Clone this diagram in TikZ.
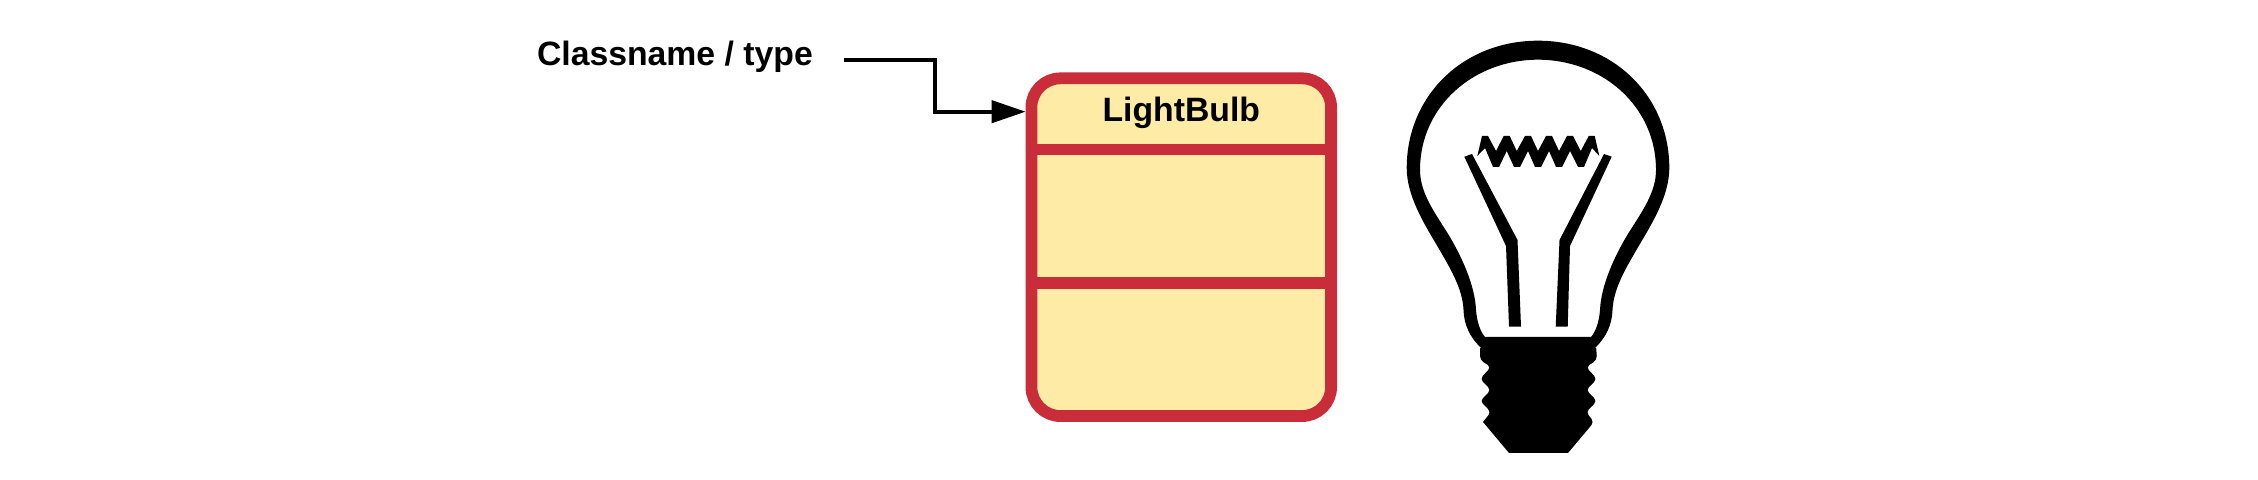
\documentclass[tikz,border=0pt]{standalone}
\usepackage{xcolor}
\usepackage{fontspec}
\setmainfont{Liberation Sans}
\definecolor{boxred}{RGB}{201, 45, 57}
\definecolor{boxyellow}{RGB}{254, 235, 165}
\usetikzlibrary{arrows.meta,positioning}

\begin{document}
\begin{tikzpicture}[
    x=0.01cm,
    y=-0.01cm,
    classtext/.style={
        font=\fontsize{9.6}{11.4}\selectfont\bfseries,
        inner sep=0pt,
        outer sep=0pt
    },
    classbox/.style={
        rectangle,
        rounded corners=0.29cm,
        minimum width=2.995cm,
        minimum height=3.375cm,
        draw=boxred,
        fill=boxyellow,
        line width=0.118cm
    },
    divider/.style={draw=boxred,line width=0.118cm},
    arrow/.style={->,>={Triangle[length=0.34cm,width=0.22cm]},line width=0.042cm,black}
]
    \useasboundingbox (0,0) rectangle (2258,480);

    % Class box
    \node[classbox] (lightbulb) at (1181.25,247.2) {};
    \draw[divider] (1031.5,149.5) -- (1331,149.5);
    \draw[divider] (1031.5,282.7) -- (1331,282.7);
    \node[classtext, minimum width=3.11cm, text height=0.27cm, text depth=0.064cm, align=center] (classname) at (1181.25,111.7) {LightBulb};

    % Label
    \node[classtext, anchor=base west] (typelabel) at (537,66) {Classname / type};
    \coordinate (typeend) at (844,60);

    % Arrows
    \draw[arrow] (typeend) -- (935,60) |- (classname.west);

    % Bulb glass
    \fill[black, even odd rule]
        (1480,347) .. controls (1470,337) and (1464,325) .. (1463.5,310)
        .. controls (1462.5,288) and (1450,268) .. (1436.7,245)
        .. controls (1423,222) and (1406.7,195) .. (1406.7,168)
        .. controls (1406.7,96) and (1463,40.7) .. (1538,40.7)
        .. controls (1613,40.7) and (1669.3,96) .. (1669.3,168)
        .. controls (1669.3,195) and (1653,222) .. (1639.3,245)
        .. controls (1626,268) and (1613.5,288) .. (1612.5,310)
        .. controls (1612,325) and (1606,337) .. (1596,347)
        -- cycle
        (1485,337) .. controls (1480,331) and (1477,322) .. (1476,310)
        .. controls (1475,285) and (1461,255) .. (1447.5,233)
        .. controls (1433.5,211) and (1420,192) .. (1420,170)
        .. controls (1420,106) and (1474,59.7) .. (1538,59.7)
        .. controls (1602,59.7) and (1656,106) .. (1656,170)
        .. controls (1656,192) and (1642.5,211) .. (1628.5,233)
        .. controls (1615,255) and (1601,285) .. (1600,310)
        .. controls (1599,322) and (1596,331) .. (1591,337)
        -- cycle;

    % Screw base
    \fill[black, rounded corners=0.04cm]
        (1480,345) -- (1596,345)
        -- (1597,360) -- (1586,367) -- (1597,379) -- (1586,390) -- (1597,401)
        -- (1586,412) -- (1594,422) [sharp corners] -- (1568,453) -- (1509,453) -- (1483,422) [rounded corners=0.04cm]
        -- (1491,412) -- (1480,401) -- (1491,390) -- (1480,379) -- (1491,367)
        -- (1480,360) -- cycle;

    % Stems
    \fill[black] (1464.3,156.7) -- (1472,154) -- (1517.5,240) -- (1521,326.7) -- (1509,326.7) -- (1506,246) -- cycle;
    \fill[black] (1611.7,156.7) -- (1604,154) -- (1559.5,240) -- (1555.7,326.7) -- (1567.7,326.7) -- (1570,246) -- cycle;

    % Filament
    \fill[black]
        (1482,136) -- (1488,136) -- (1496,151) -- (1503.7,136) -- (1509.7,136) -- (1516.7,151)
        -- (1525,136) -- (1531,136) -- (1538,151) -- (1546,136) -- (1552,136) -- (1559,151)
        -- (1567,136) -- (1573,136) -- (1580.7,151) -- (1588.7,136) -- (1594.7,136) -- (1599.3,156) -- (1592,148)
        -- (1584,167) -- (1578,167) -- (1570,151) -- (1562,167) -- (1556,167) -- (1549,151)
        -- (1541,167) -- (1535,167) -- (1528,151) -- (1520,167) -- (1514,167) -- (1506.7,151)
        -- (1499,167) -- (1493,167) -- (1485,148) -- (1477.3,156) -- cycle;
\end{tikzpicture}
\end{document}
